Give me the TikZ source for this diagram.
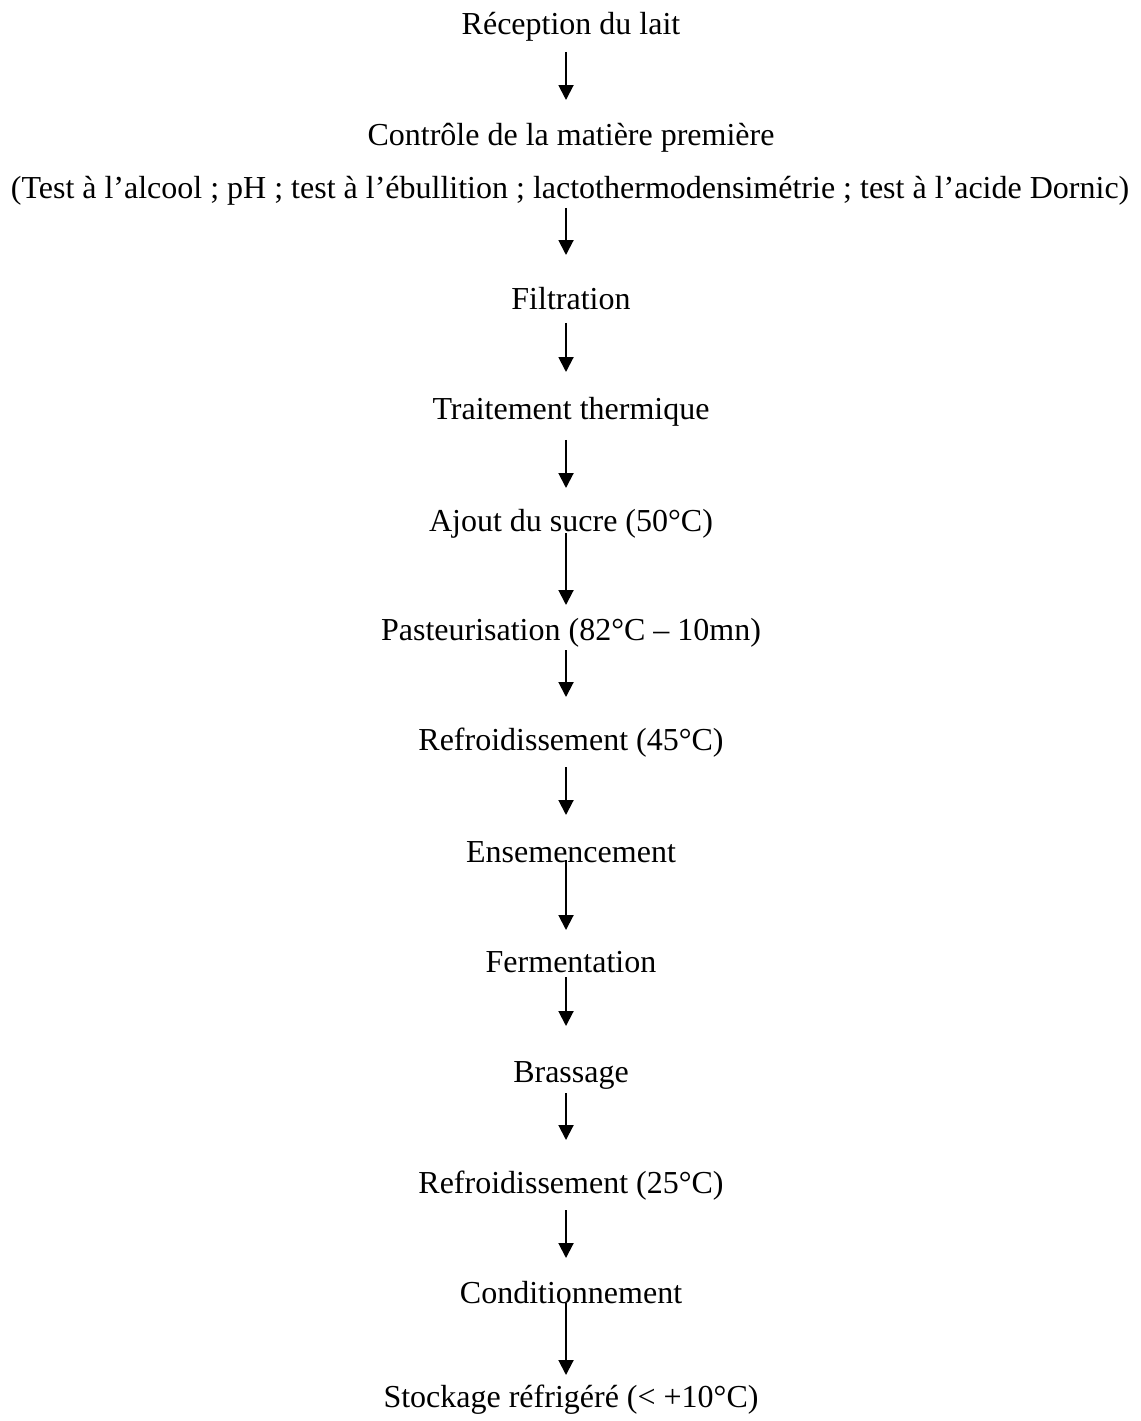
\documentclass[tikz,border=0pt]{standalone}
\usepackage{fontspec}
\setmainfont{Liberation Serif}
\usepackage{tikz}
\usetikzlibrary{arrows.meta}

\begin{document}
\begin{tikzpicture}[x=0.375pt,y=-0.375pt,
        etape/.style={anchor=base,inner sep=0pt,font=\fontsize{12}{14}\selectfont},
        fleche/.style={line width=0.75pt,-{Triangle[width=5.6pt,length=5.6pt]}}]
        \useasboundingbox (0,0) rectangle (1140,1421);

        % steps of the process, baselines in px of the page
        \node[etape] (recep)    at (571,35)   {Réception du lait};
        \node[etape] (controle) at (571,146)  {Contrôle de la matière première};
        \node[etape] (tests)    at (570,199)  {(Test à l’alcool ; pH ; test à l’ébullition ; lactothermodensimétrie ; test à l’acide Dornic)};
        \node[etape] (filtr)    at (571,310)  {Filtration};
        \node[etape] (trait)    at (571,420)  {Traitement thermique};
        \node[etape] (sucre)    at (571,531)  {Ajout du sucre (50°C)};
        \node[etape] (pasteur)  at (571,640)  {Pasteurisation (82°C – 10mn)};
        \node[etape] (refr1)    at (571,750)  {Refroidissement (45°C)};
        \node[etape] (ensem)    at (571,862)  {Ensemencement};
        \node[etape] (ferm)     at (571,972)  {Fermentation};
        \node[etape] (brass)    at (571,1082) {Brassage};
        \node[etape] (refr2)    at (571,1193) {Refroidissement (25°C)};
        \node[etape] (cond)     at (571,1303) {Conditionnement};
        \node[etape] (stock)    at (571,1407) {Stockage réfrigéré (< +10°C)};

        % arrows: start and tip of each one
        \foreach \i/\ys/\ye in {1/52/100, 2/208/255, 3/323/372, 4/440/488,
                5/533/605, 6/650/697, 7/767/815, 8/860/930, 9/977/1026,
                10/1093/1140, 11/1210/1258, 12/1303/1375}{
            \coordinate (d\i) at (566,\ys);
            \coordinate (f\i) at (566,\ye);
        }
        \foreach \i in {1,...,12}
            \draw[fleche] (d\i) -- (f\i);

    \end{tikzpicture}
\end{document}
